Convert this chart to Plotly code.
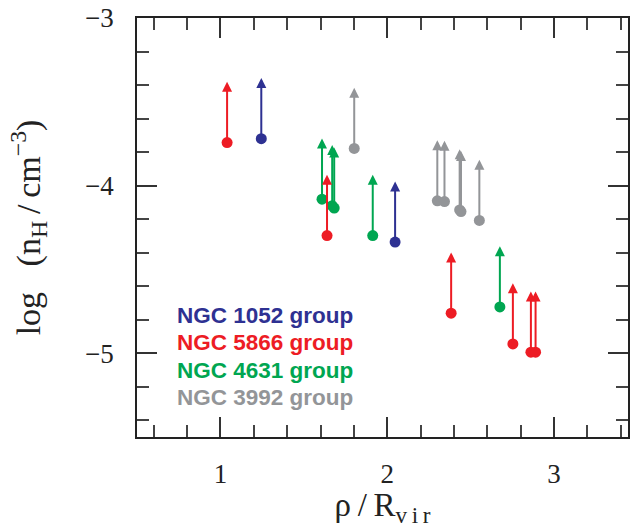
import plotly.graph_objects as go

# Projected distance (rho / R_vir) and lower limits on log n_H for each group
ngc1052_x = [1.245, 2.047]
ngc1052_y = [-3.720, -4.337]

ngc5866_x = [1.040, 1.639, 2.383, 2.753, 2.861, 2.889]
ngc5866_y = [-3.743, -4.298, -4.761, -4.945, -4.994, -4.994]

ngc4631_x = [1.609, 1.670, 1.682, 1.913, 2.675]
ngc4631_y = [-4.081, -4.120, -4.134, -4.298, -4.724]

ngc3992_x = [1.802, 2.300, 2.343, 2.434, 2.442, 2.552]
ngc3992_y = [-3.778, -4.091, -4.095, -4.145, -4.155, -4.208]

group_names = ["NGC 1052 group", "NGC 5866 group", "NGC 4631 group", "NGC 3992 group"]
group_colors = ["#2E3192", "#ED1C24", "#00A651", "#939598"]

# length of the lower-limit arrows in dex
LIMIT_LEN = 0.362

groups = [
    (ngc3992_x, ngc3992_y),
    (ngc4631_x, ngc4631_y),
    (ngc5866_x, ngc5866_y),
    (ngc1052_x, ngc1052_y),
]
colors_draw = [group_colors[3], group_colors[2], group_colors[1], group_colors[0]]

fig = go.Figure()
annotations = []
for (xs, ys), col in zip(groups, colors_draw):
    fig.add_trace(go.Scatter(
        x=xs, y=ys, mode="markers",
        marker=dict(size=11, color=col, line=dict(width=0)),
        showlegend=False, hoverinfo="skip",
    ))
    for xv, yv in zip(xs, ys):
        annotations.append(dict(
            x=xv, y=yv + LIMIT_LEN, ax=xv, ay=yv,
            xref="x", yref="y", axref="x", ayref="y",
            text="", showarrow=True, arrowhead=2, arrowsize=1,
            arrowwidth=2, arrowcolor=col, standoff=0, startstandoff=0,
        ))

# group labels
label_x = 0.728
label_y0 = -4.774
label_dy = 0.1636
for i, (name, col) in enumerate(zip(group_names, group_colors)):
    annotations.append(dict(
        x=label_x, y=label_y0 - i * label_dy, xref="x", yref="y",
        text="<b>" + name + "</b>", showarrow=False, xanchor="left", yanchor="middle",
        font=dict(family="Liberation Sans, Arial", size=22.5, color=col),
    ))

serif = "Liberation Serif, Times New Roman, serif"
axis_common = dict(
    showline=True, linecolor="#222", linewidth=1.5, mirror="ticks",
    ticks="inside", ticklen=20, tickwidth=1.5, tickcolor="#333",
    showgrid=False, zeroline=False,
    tickfont=dict(family=serif, size=27, color="#222"),
)

fig.update_layout(
    width=630, height=528,
    margin=dict(l=137, r=0, t=18, b=91),
    paper_bgcolor="white", plot_bgcolor="white",
    annotations=annotations,
    xaxis=dict(
        range=[0.5, 3.443], tick0=1, dtick=1,
        minor=dict(dtick=0.2, tick0=0, ticks="inside", ticklen=12, tickwidth=1.5, tickcolor="#444"),
        ticklabelstandoff=12,
        title=dict(text="ρ\u2009/\u2009R<sub>v\u2009i\u2009r</sub>", font=dict(family=serif, size=33, color="#222"), standoff=8),
        **axis_common,
    ),
    yaxis=dict(
        range=[-5.5, -3.0], tick0=-3, dtick=1,
        minor=dict(dtick=0.2, tick0=0, ticks="inside", ticklen=12, tickwidth=1.5, tickcolor="#444"),
        ticklabelstandoff=16,
        title=dict(text="log\u2002 (n<sub>H</sub>\u2009/\u2009cm<sup>−3</sup>)", font=dict(family=serif, size=34, color="#222"), standoff=34),
        **axis_common,
    ),
)

fig.write_html("out.html")
